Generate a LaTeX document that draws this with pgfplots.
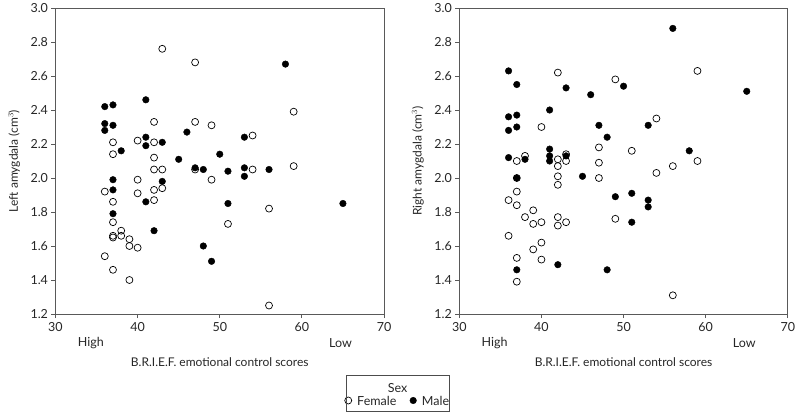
\documentclass[border=0pt]{standalone}
\usepackage{fontspec}
\setmainfont{Lato}
\usepackage{pgfplots}
\pgfplotsset{compat=1.18}
\begin{document}
\begin{tikzpicture}[x=1pt,y=1pt]
\path[use as bounding box] (-55.5,-104) rectangle (744.5,314);
\pgfplotsset{
  brief/.style={
    scale only axis, width=328.5pt, height=306pt,
    xmin=30, xmax=70, ymin=1.2, ymax=3.0,
    xtick={30,40,50,60,70}, ytick={1.2,1.4,...,3.0},
    yticklabel style={/pgf/number format/.cd, fixed, fixed zerofill, precision=1},
    /pgf/number format/assume math mode=true,
    tick align=outside, tick pos=left, major tick length=4pt,
    axis line style={draw=black!65, line width=0.8pt},
    every tick/.style={draw=black!65, line width=0.8pt},
    tick label style={font=\fontsize{12.5}{14}\selectfont, text=black!85},
    label style={font=\fontsize{12}{14}\selectfont, text=black!85},
    xlabel={B.R.I.E.F. emotional control scores},
    xlabel style={at={(axis description cs:0.5,0)}, yshift=-48pt, anchor=center},
    ylabel style={at={(axis description cs:-0.126,0.5)}, anchor=center, rotate=0},
    xticklabel style={yshift=-1pt},
    clip=false,
  },
  fem/.style={only marks, mark=o, mark size=3.5pt, mark options={draw=black, line width=0.7pt, fill=white}},
  mal/.style={only marks, mark=*, mark size=3.3pt, mark options={draw=black, fill=black}},
}
\begin{axis}[brief, at={(0,0)}, anchor=south west,
  ylabel={Left amygdala (cm$^3$)}]
\addplot[fem] coordinates {
(43,2.76)(47,2.68)(42,2.33)(47,2.33)(49,2.31)(37,2.21)(40,2.22)(42,2.21)(37,2.14)(42,2.12)
(42,2.05)(43,2.05)(47,2.05)(49,1.99)(40,1.99)(36,1.92)(40,1.91)(42,1.93)(43,1.94)(42,1.87)
(37,1.86)(37,1.74)(38,1.69)(37,1.66)(37,1.65)(38,1.66)(39,1.64)(39,1.60)(40,1.59)(36,1.54)
(37,1.46)(39,1.40)(59,2.39)(54,2.25)(59,2.07)(54,2.05)(56,1.82)(51,1.73)(56,1.25)};
\addplot[mal] coordinates {
(41,2.46)(36,2.42)(37,2.43)(36,2.32)(37,2.31)(36,2.28)(46,2.27)(41,2.24)(41,2.19)(43,2.21)
(38,2.16)(45,2.11)(50,2.14)(47,2.06)(48,2.05)(37,1.99)(43,1.98)(37,1.93)(41,1.86)(37,1.79)
(42,1.69)(48,1.60)(49,1.51)(58,2.67)(53,2.24)(51,2.04)(53,2.06)(53,2.01)(56,2.05)(51,1.85)
(65,1.85)};
\node[font=\fontsize{12.5}{14}\selectfont, text=black!85, anchor=center] at (axis cs:34.3,1.2) [yshift=-29pt] {High};
\node[font=\fontsize{12.5}{14}\selectfont, text=black!85, anchor=center] at (axis cs:64.7,1.2) [yshift=-29pt] {Low};
\end{axis}
\begin{axis}[brief, at={(403.8pt,0)}, anchor=south west,
  ylabel={Right amygdala (cm$^3$)},
  legend columns=2,
  legend image code/.code={\draw[#1] plot coordinates {(4pt,1.5pt)};},
  legend style={draw=none, fill=none, at={(-61.6pt,-88pt)}, anchor=center,
     font=\fontsize{12.5}{14}\selectfont, text=black!85,
     nodes={inner xsep=1.5pt, inner ysep=1pt},
     /tikz/every odd column/.append style={column sep=4pt},
     /tikz/every even column/.append style={column sep=12pt}},
  legend cell align=left]
\addplot[fem] coordinates {
(42,2.62)(49,2.58)(59,2.63)(40,2.30)(54,2.35)(47,2.18)(51,2.16)(38,2.13)(37,2.10)(42,2.11)
(43,2.14)(43,2.10)(42,2.07)(47,2.09)(59,2.10)(56,2.07)(54,2.03)(47,2.00)(42,2.01)(42,1.96)
(37,2.00)(37,1.92)(36,1.87)(37,1.84)(39,1.81)(38,1.77)(39,1.73)(40,1.74)(42,1.77)(42,1.72)
(43,1.74)(49,1.76)(36,1.66)(40,1.62)(39,1.58)(37,1.53)(40,1.52)(37,1.39)(56,1.31)};
\addlegendentry{Female}
\addplot[mal] coordinates {
(36,2.63)(37,2.55)(43,2.53)(46,2.49)(41,2.40)(36,2.36)(37,2.37)(37,2.30)(36,2.28)(47,2.31)
(48,2.24)(41,2.17)(41,2.13)(41,2.10)(36,2.12)(38,2.11)(43,2.13)(45,2.01)(37,2.00)(42,1.49)
(37,1.46)(48,1.46)(56,2.88)(50,2.54)(65,2.51)(53,2.31)(58,2.16)(49,1.89)(51,1.91)(53,1.87)
(53,1.83)(51,1.74)};
\addlegendentry{Male}
\node[font=\fontsize{12.5}{14}\selectfont, text=black!85, anchor=center] at (axis cs:34.3,1.2) [yshift=-29pt] {High};
\node[font=\fontsize{12.5}{14}\selectfont, text=black!85, anchor=center] at (axis cs:64.7,1.2) [yshift=-29pt] {Low};
\end{axis}
\draw[black!70, line width=0.7pt] (290.5,-61) rectangle (393.8,-97.7);
\node[font=\fontsize{12.5}{14}\selectfont, text=black!85] at (342.2,-73.7) {Sex};
\end{tikzpicture}
\end{document}
